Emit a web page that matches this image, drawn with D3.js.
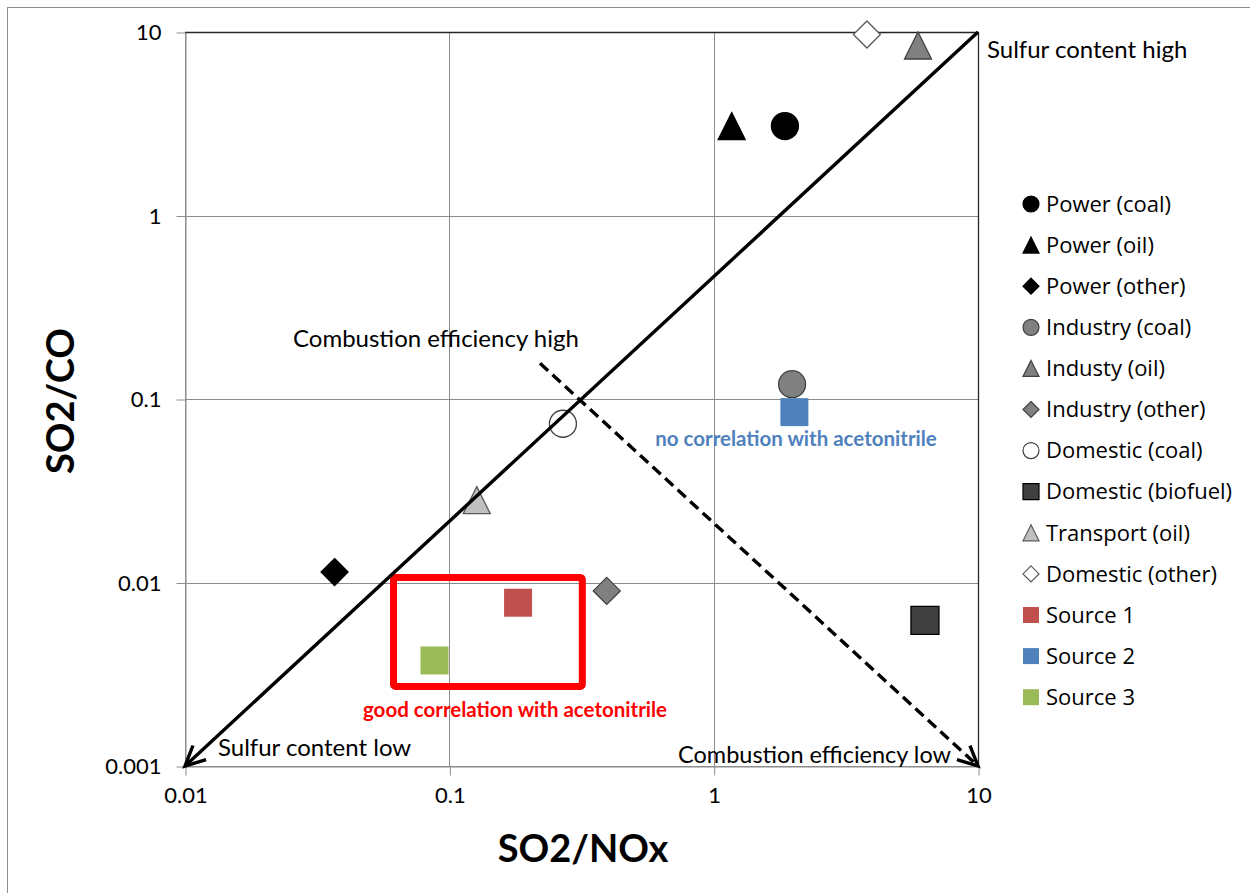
<!DOCTYPE html>
<html>
<head>
<meta charset="utf-8">
<script src="https://cdn.jsdelivr.net/npm/d3@7"></script>
<style>
  html, body { margin: 0; padding: 0; background: #fff; }
  svg { display: block; }
</style>
</head>
<body>
<svg id="chart" width="1250" height="893"></svg>
<script>
// Emission-ratio categories (SO2/NOx vs SO2/CO)
const categories = [
  "Power (coal)", "Power (oil)", "Power (other)",
  "Industry (coal)", "Industy (oil)", "Industry (other)",
  "Domestic (coal)", "Domestic (biofuel)", "Transport (oil)",
  "Domestic (other)", "Source 1", "Source 2", "Source 3"
];
const so2NOx = [1.86, 1.17, 0.0368, 1.98, 5.93, 0.394, 0.269, 6.30, 0.127, 3.80, 0.182, 2.02, 0.0879];
const so2CO  = [3.07, 3.07, 0.0114, 0.1205, 8.44, 0.0090, 0.0733, 0.00622, 0.0281, 9.69, 0.00776, 0.0848, 0.00376];

// Marker styling per category
const shapes  = ["circle", "triangle", "diamond", "circle", "triangle", "diamond",
                 "circle", "square", "triangle", "diamond", "square", "square", "square"];
const fills   = ["#000000", "#000000", "#000000", "#808080", "#808080", "#808080",
                 "#ffffff", "#404040", "#c0c0c0", "#ffffff", "#c0504d", "#4f81bd", "#9bbb59"];
const strokes = ["#000000", "#000000", "#000000", "#404040", "#404040", "#404040",
                 "#404040", "#000000", "#595959", "#595959", "#c0504d", "#4f81bd", "#9bbb59"];

// Axis ticks
const xTicks = [0.01, 0.1, 1, 10];
const xTickLabels = ["0.01", "0.1", "1", "10"];
const yTicks = [0.001, 0.01, 0.1, 1, 10];
const yTickLabels = ["0.001", "0.01", "0.1", "1", "10"];

// Guide lines (data coordinates)
const sulfurLine = [[10, 10], [0.01, 0.001]];
const efficiencyLine = [[0.2203, 0.1565], [10, 0.001]];
// Highlight box around sources well correlated with acetonitrile
const goodBoxX = [0.0615, 0.3185];
const goodBoxY = [0.01065, 0.002715];

const svg = d3.select("#chart");
const W = 1250, H = 893;
const plot = { left: 185, right: 978, top: 32, bottom: 766 };

const x = d3.scaleLog().domain([0.01, 10]).range([plot.left, plot.right]);
const y = d3.scaleLog().domain([0.001, 10]).range([plot.bottom, plot.top]);

const calibriLike = "Lato, 'Open Sans', sans-serif";
const segoeLike = "'Open Sans', 'Noto Sans', sans-serif";

// Outer chart frame
svg.append("rect")
  .attr("x", 7.5).attr("y", 7.5)
  .attr("width", W + 20).attr("height", H + 20)
  .attr("fill", "none").attr("stroke", "#8c8c8c").attr("stroke-width", 1);

// Gridlines
const grid = svg.append("g").attr("stroke", "#8c8c8c").attr("stroke-width", 1).attr("fill", "none");
grid.selectAll("line.v").data(xTicks).join("line")
  .attr("x1", d => Math.round(x(d)) + 0.5).attr("x2", d => Math.round(x(d)) + 0.5)
  .attr("y1", plot.top).attr("y2", plot.bottom);
grid.selectAll("line.h").data(yTicks).join("line")
  .attr("y1", d => Math.round(y(d)) + 0.5).attr("y2", d => Math.round(y(d)) + 0.5)
  .attr("x1", plot.left).attr("x2", plot.right);

// Plot frame (top and right edges)
svg.append("path")
  .attr("d", `M${plot.left},${plot.top + 0.5}H${plot.right + 0.5}V${plot.bottom}`)
  .attr("fill", "none").attr("stroke", "#262626").attr("stroke-width", 1.3);

// Axes
const xAxis = d3.axisBottom(x).tickValues(xTicks)
  .tickFormat((d, i) => xTickLabels[i]).tickSize(9).tickPadding(12).tickSizeOuter(0);
const yAxis = d3.axisLeft(y).tickValues(yTicks)
  .tickFormat((d, i) => yTickLabels[i]).tickSize(9).tickPadding(15).tickSizeOuter(0);

const gx = svg.append("g").attr("transform", `translate(0.5,${plot.bottom + 0.5})`).call(xAxis);
const gy = svg.append("g").attr("transform", `translate(${plot.left + 0.5},0.5)`).call(yAxis);
[gx, gy].forEach(g => {
  g.select(".domain").attr("stroke", "#8c8c8c");
  g.selectAll(".tick line").attr("stroke", "#8c8c8c");
  g.selectAll(".tick text").attr("fill", "#000").attr("font-family", calibriLike).attr("font-size", 22);
});

// Axis titles
svg.append("text")
  .attr("x", 583).attr("y", 862)
  .attr("text-anchor", "middle")
  .attr("font-family", calibriLike).attr("font-weight", "bold").attr("font-size", 38)
  .attr("fill", "#000").text("SO2/NOx");
svg.append("text")
  .attr("transform", "translate(74,401) rotate(-90)")
  .attr("text-anchor", "middle")
  .attr("font-family", calibriLike).attr("font-weight", "bold").attr("font-size", 38)
  .attr("fill", "#000").text("SO2/CO");

// Marker path generator
function markerPath(shape, s) {
  const h = s / 2;
  switch (shape) {
    case "circle":
      return `M${-h},0A${h},${h} 0 1,0 ${h},0A${h},${h} 0 1,0 ${-h},0Z`;
    case "triangle":
      return `M0,${-h}L${h},${h}L${-h},${h}Z`;
    case "diamond":
      return `M0,${-h}L${h},0L0,${h}L${-h},0Z`;
    default:
      return `M${-h},${-h}H${h}V${h}H${-h}Z`;
  }
}

const points = categories.map((c, i) => ({
  name: c, xv: so2NOx[i], yv: so2CO[i], shape: shapes[i], fill: fills[i], stroke: strokes[i]
}));

// Scatter markers
svg.append("g").selectAll("path").data(points).join("path")
  .attr("transform", d => `translate(${x(d.xv)},${y(d.yv)})`)
  .attr("d", d => markerPath(d.shape, d.shape === "square" ? 28 : 27))
  .attr("fill", d => d.fill)
  .attr("stroke", d => d.stroke)
  .attr("stroke-width", d => d.shape === "square" && d.name.startsWith("Source") ? 0 : 1.3);

// Highlight box
svg.append("rect")
  .attr("x", x(goodBoxX[0])).attr("y", y(goodBoxY[0]))
  .attr("width", x(goodBoxX[1]) - x(goodBoxX[0]))
  .attr("height", y(goodBoxY[1]) - y(goodBoxY[0]))
  .attr("rx", 2)
  .attr("fill", "none").attr("stroke", "#ff0000").attr("stroke-width", 7);

// Guide lines with open arrowheads
function arrowLine(pts, dashed) {
  const p0 = [x(pts[0][0]), y(pts[0][1])];
  const p1 = [x(pts[1][0]), y(pts[1][1])];
  const g = svg.append("g").attr("stroke", "#000").attr("fill", "none").attr("stroke-width", 3.4);
  g.append("line")
    .attr("x1", p0[0]).attr("y1", p0[1]).attr("x2", p1[0]).attr("y2", p1[1])
    .attr("stroke-dasharray", dashed ? "11,6" : null);
  const ang = Math.atan2(p0[1] - p1[1], p0[0] - p1[0]);
  const len = 22, spread = 26 * Math.PI / 180;
  const w1 = [p1[0] + len * Math.cos(ang + spread), p1[1] + len * Math.sin(ang + spread)];
  const w2 = [p1[0] + len * Math.cos(ang - spread), p1[1] + len * Math.sin(ang - spread)];
  g.append("path")
    .attr("d", `M${w1[0]},${w1[1]}L${p1[0]},${p1[1]}L${w2[0]},${w2[1]}`)
    .attr("stroke-linejoin", "miter").attr("stroke-linecap", "butt");
}
arrowLine(sulfurLine, false);
arrowLine(efficiencyLine, true);

// Annotations
const notes = svg.append("g").attr("font-family", calibriLike).attr("font-size", 24).attr("fill", "#000");
notes.append("text").attr("x", 987).attr("y", 58).text("Sulfur content high");
notes.append("text").attr("x", 293).attr("y", 347).text("Combustion efficiency high");
notes.append("text").attr("x", 218).attr("y", 756).text("Sulfur content low");
notes.append("text").attr("x", 951).attr("y", 763).attr("text-anchor", "end")
  .attr("font-size", 23.5).text("Combustion efficiency low");

svg.append("text")
  .attr("x", 515).attr("y", 717).attr("text-anchor", "middle")
  .attr("font-family", calibriLike).attr("font-weight", "bold").attr("font-size", 20.5)
  .attr("fill", "#ff0000").text("good correlation with acetonitrile");
svg.append("text")
  .attr("x", 796).attr("y", 446).attr("text-anchor", "middle")
  .attr("font-family", calibriLike).attr("font-weight", "bold").attr("font-size", 20.5)
  .attr("fill", "#4f81bd").text("no correlation with acetonitrile");

// Legend
const legend = svg.append("g");
const rows = legend.selectAll("g").data(points).join("g")
  .attr("transform", (d, i) => `translate(1031,${204 + i * 41.1})`);
rows.append("path")
  .attr("d", d => markerPath(d.shape, 16))
  .attr("fill", d => d.fill)
  .attr("stroke", d => d.stroke)
  .attr("stroke-width", d => d.name.startsWith("Source") ? 0 : 1.2);
rows.append("text")
  .attr("x", 15).attr("dy", "0.35em")
  .attr("font-family", segoeLike).attr("font-size", 22)
  .attr("fill", "#000")
  .text(d => d.name);
</script>
</body>
</html>
